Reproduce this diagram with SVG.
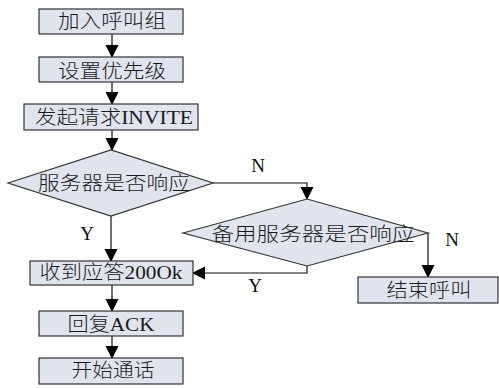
<svg xmlns="http://www.w3.org/2000/svg" width="499" height="388" viewBox="0 0 499 388">
<style>
.n{fill:#dfe4ef;stroke:#333;stroke-width:1.2}
.t{font-family:"Liberation Serif","Noto Sans CJK SC",serif;font-size:19px;font-weight:300;fill:#1a1a1a;text-anchor:middle}
.l{font-family:"Liberation Serif",serif;font-size:19px;fill:#111;text-anchor:middle}
.c{fill:none;stroke:#111;stroke-width:1.2}
</style>
<defs>
<marker id="a" markerUnits="userSpaceOnUse" markerWidth="14" markerHeight="14" refX="12" refY="6.5" orient="auto">
<path d="M0,0 L13,6.5 L0,13 Z" fill="#000"/>
</marker>
</defs>
<rect width="499" height="388" fill="#fff"/>
<g id="connectors">
<path class="c" d="M112,34 V57" marker-end="url(#a)"/>
<path class="c" d="M112,82 V104" marker-end="url(#a)"/>
<path class="c" d="M112,130 V150" marker-end="url(#a)"/>
<path class="c" d="M111,216 V261" marker-end="url(#a)"/>
<path class="c" d="M213,183 H307 V199" marker-end="url(#a)"/>
<path class="c" d="M428,233 V277" marker-end="url(#a)"/>
<path class="c" d="M307,266 V273 H193" marker-end="url(#a)"/>
<path class="c" d="M112,285 V311" marker-end="url(#a)"/>
<path class="c" d="M112,336 V358" marker-end="url(#a)"/>
<text class="l" x="258" y="172">N</text>
<text class="l" x="87" y="240">Y</text>
<text class="l" x="255" y="292">Y</text>
<text class="l" x="452" y="246">N</text>
</g>
<g id="n1"><rect class="n" x="39" y="9" width="144" height="25"/><text class="t" x="112" y="28" textLength="108" lengthAdjust="spacingAndGlyphs">加入呼叫组</text></g>
<g id="n2"><rect class="n" x="39" y="57" width="144" height="25"/><text class="t" x="112" y="78" textLength="108" lengthAdjust="spacingAndGlyphs">设置优先级</text></g>
<g id="n3"><rect class="n" x="24" y="104" width="174" height="26"/><text class="t" x="114" y="124" textLength="158" lengthAdjust="spacingAndGlyphs">发起请求INVITE</text></g>
<g id="n4"><polygon class="n" points="8,183 111,150 213,183 111,216"/><text class="t" x="114" y="190" textLength="152" lengthAdjust="spacingAndGlyphs">服务器是否响应</text></g>
<g id="n5"><polygon class="n" points="183,233 307,199 428,233 307,266"/><text class="t" x="313" y="241" textLength="203" lengthAdjust="spacingAndGlyphs">备用服务器是否响应</text></g>
<g id="n6"><rect class="n" x="358" y="277" width="140" height="26"/><text class="t" x="429" y="297" textLength="85" lengthAdjust="spacingAndGlyphs">结束呼叫</text></g>
<g id="n7"><rect class="n" x="30" y="261" width="163" height="24"/><text class="t" x="111" y="279" textLength="143" lengthAdjust="spacingAndGlyphs">收到应答200Ok</text></g>
<g id="n8"><rect class="n" x="39" y="311" width="144" height="25"/><text class="t" x="111" y="331" textLength="87" lengthAdjust="spacingAndGlyphs">回复ACK</text></g>
<g id="n9"><rect class="n" x="39" y="358" width="144" height="26"/><text class="t" x="113" y="377" textLength="83" lengthAdjust="spacingAndGlyphs">开始通话</text></g>
</svg>
